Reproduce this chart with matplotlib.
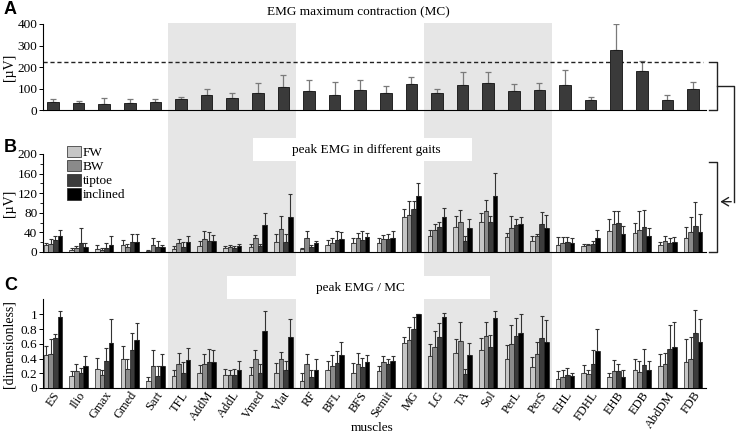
import matplotlib
matplotlib.use("Agg")
import matplotlib.pyplot as plt
import numpy as np
from matplotlib.patches import Rectangle, FancyArrowPatch
from matplotlib.lines import Line2D

plt.rcParams['font.family'] = ['Liberation Serif', 'DejaVu Serif']

muscles = ["ES", "Ilio", "Gmax", "Gmed", "Sart", "TFL", "AddM", "AddL", "Vmed", "Vlat",
           "RF", "BFL", "BFS", "Semit", "MG", "LG", "TA", "Sol", "PerL", "PerS",
           "EHL", "FDHL", "EHB", "EDB", "AbdDM", "FDB"]
gaits = ["FW", "BW", "tiptoe", "inclined"]
shaded_groups = [(5, 9), (15, 19)]
mc_reference = 222

# Panel A: maximum contraction (mean, mean+SD)
mc_mean = [36, 33, 30, 33, 36, 50, 68, 54, 78, 107, 89, 72, 93,
           78, 123, 79, 117, 126, 89, 92, 117, 48, 280, 182, 48, 96]
mc_top = [53, 44, 56, 50, 50, 62, 96, 81, 125, 162, 139, 129, 139,
          110, 153, 96, 176, 176, 120, 126, 187, 59, 401, 230, 70, 129]

# Panel B: peak EMG (µV) per gait (mean, mean+SD)
pk_FW = [15, 5, 7, 14, 3, 7, 13, 8, 11, 20, 6, 15, 18, 18, 71, 32, 52, 61, 31, 23, 15, 12, 43, 39, 14, 28]
pk_BW = [16, 9, 5, 11, 14, 19, 27, 10, 28, 47, 28, 19, 28, 26, 76, 44, 62, 84, 48, 32, 19, 14, 58, 45, 22, 40]
pk_TT = [24, 18, 9, 20, 10, 11, 22, 9, 13, 20, 10, 24, 25, 26, 87, 52, 23, 62, 56, 57, 20, 16, 60, 52, 18, 54]
pk_IN = [32, 11, 15, 20, 10, 20, 22, 12, 56, 72, 18, 27, 30, 28, 115, 72, 48, 115, 58, 49, 19, 28, 37, 33, 20, 40]
pk_FW_top = [18, 8, 14, 25, 4, 13, 22, 12, 16, 37, 8, 24, 29, 28, 87, 44, 73, 79, 39, 32, 31, 16, 68, 60, 20, 52]
pk_BW_top = [27, 12, 8, 17, 29, 27, 42, 14, 34, 73, 42, 28, 38, 35, 105, 58, 85, 106, 73, 37, 31, 16, 83, 83, 33, 71]
pk_TT_top = [32, 48, 18, 36, 23, 21, 40, 12, 16, 37, 14, 42, 42, 37, 105, 62, 32, 74, 67, 81, 31, 23, 83, 85, 28, 102]
pk_IN_top = [44, 18, 33, 36, 15, 32, 35, 17, 79, 118, 22, 40, 39, 42, 140, 89, 68, 161, 71, 75, 28, 44, 54, 49, 31, 77]

# Panel C: peak EMG / MC (dimensionless)
nr_FW = [0.45, 0.16, 0.26, 0.40, 0.09, 0.16, 0.20, 0.17, 0.17, 0.20, 0.10, 0.24, 0.21,
         0.23, 0.61, 0.43, 0.48, 0.52, 0.40, 0.28, 0.12, 0.20, 0.15, 0.24, 0.30, 0.35]
nr_BW = [0.46, 0.23, 0.17, 0.26, 0.30, 0.33, 0.32, 0.18, 0.39, 0.39, 0.32, 0.30, 0.32,
         0.35, 0.65, 0.55, 0.64, 0.71, 0.59, 0.46, 0.15, 0.19, 0.23, 0.22, 0.33, 0.40]
nr_TT = [0.68, 0.20, 0.36, 0.52, 0.16, 0.20, 0.35, 0.17, 0.21, 0.24, 0.15, 0.34, 0.28,
         0.33, 0.80, 0.69, 0.19, 0.56, 0.70, 0.68, 0.17, 0.33, 0.23, 0.31, 0.53, 0.74]
nr_IN = [0.96, 0.30, 0.61, 0.65, 0.30, 0.38, 0.35, 0.25, 0.77, 0.69, 0.25, 0.45, 0.35,
         0.36, 1.01, 0.96, 0.45, 0.95, 0.75, 0.63, 0.16, 0.50, 0.15, 0.25, 0.55, 0.63]
nr_FW_top = [0.57, 0.23, 0.41, 0.57, 0.15, 0.24, 0.31, 0.26, 0.29, 0.34, 0.20, 0.36, 0.34,
             0.30, 0.69, 0.59, 0.66, 0.68, 0.58, 0.42, 0.23, 0.31, 0.21, 0.39, 0.46, 0.66]
nr_BW_top = [0.66, 0.33, 0.24, 0.40, 0.51, 0.48, 0.46, 0.25, 0.52, 0.49, 0.46, 0.45, 0.47,
             0.44, 0.83, 0.77, 0.90, 0.90, 0.86, 0.63, 0.24, 0.25, 0.38, 0.36, 0.47, 0.69]
nr_TT_top = [0.73, 0.27, 0.54, 0.75, 0.30, 0.35, 0.53, 0.26, 0.32, 0.37, 0.25, 0.50, 0.41,
             0.40, 0.96, 0.88, 0.26, 0.72, 0.95, 0.98, 0.27, 0.52, 0.33, 0.53, 0.86, 1.06]
nr_IN_top = [1.05, 0.43, 0.94, 0.88, 0.46, 0.54, 0.52, 0.36, 1.04, 0.93, 0.39, 0.63, 0.45,
             0.44, 1.01, 1.02, 0.61, 1.04, 1.00, 0.92, 0.20, 0.80, 0.24, 0.37, 0.89, 0.94]

gait_colors = ["#c6c6c6", "#8a8a8a", "#3c3c3c", "#000000"]
W, H = 737, 437
fig = plt.figure(figsize=(W / 100, H / 100), dpi=100)

def fx(px):
    return px / W

def fy(py):
    return 1 - py / H

x = np.arange(len(muscles))
xlim = (-0.39, 25.51)
left, right = fx(43), fx(706)

# background axes for shaded regions
bg = fig.add_axes([left, fy(388), right - left, fy(23) - fy(388)], zorder=0)
bg.set_xlim(*xlim)
bg.axis('off')
for a, b in shaded_groups:
    bg.axvspan(a - 0.5, b + 0.5, color="#e6e6e6", lw=0)

def make_axes(top_px, bot_px):
    ax = fig.add_axes([left, fy(bot_px), right - left, fy(top_px) - fy(bot_px)], zorder=2)
    ax.patch.set_alpha(0)
    ax.set_xlim(*xlim)
    for s in ["top", "right"]:
        ax.spines[s].set_visible(False)
    ax.spines["left"].set_linewidth(0.8)
    ax.spines["bottom"].set_linewidth(0.8)
    ax.tick_params(axis="y", direction="out", length=3, width=0.7, labelsize=9.5, pad=1)
    ax.tick_params(axis="x", length=0)
    return ax

# white title boxes (drawn over shading, under axes contents)
for (x0, x1, y0, y1) in [(253, 472, 138, 161), (227, 490, 276, 299)]:
    fig.patches.append(Rectangle((fx(x0), fy(y1)), fx(x1) - fx(x0), fy(y0) - fy(y1),
                                 transform=fig.transFigure, facecolor="white",
                                 edgecolor="none", zorder=1))

# ---- Panel A ----
axA = make_axes(24, 110)
axA.set_ylim(0, 400)
axA.set_yticks([0, 100, 200, 300, 400])
axA.set_xticks([])
mcm = np.array(mc_mean)
axA.bar(x, mcm, width=0.45, color="#3a3a3a", edgecolor="#111111", lw=0.6, zorder=3)
axA.errorbar(x, mcm, yerr=[np.zeros_like(mcm), np.array(mc_top) - mcm], fmt="none",
             ecolor="#7a7a7a", elinewidth=0.9, capsize=2, capthick=0.9, zorder=2)
axA.axhline(mc_reference, color="#222222", ls=(0, (3, 2)), lw=1.0, xmax=0.995)
axA.set_ylabel("[µV]", fontsize=10, labelpad=2)

# ---- Panel B and C ----
def grouped(ax, series, tops, ecolor):
    bw = 0.18
    for i, (vals, top, col) in enumerate(zip(series, tops, gait_colors)):
        v = np.array(vals, dtype=float)
        xs = x + (i - 1.5) * bw
        ax.bar(xs, v, width=bw, color=col, edgecolor="#222222", lw=0.5, zorder=3,
               label=gaits[i])
        ax.errorbar(xs, v, yerr=[np.zeros_like(v), np.array(top) - v], fmt="none",
                    ecolor=ecolor, elinewidth=0.8, capsize=1.6, capthick=0.8, zorder=2)

axB = make_axes(154, 252)
axB.set_ylim(0, 200)
axB.set_yticks([0, 40, 80, 120, 160, 200])
axB.set_yticks(np.arange(20, 200, 40), minor=True)
axB.tick_params(axis="y", which="minor", direction="out", length=2, width=0.6)
axB.set_xticks([])
grouped(axB, [pk_FW, pk_BW, pk_TT, pk_IN], [pk_FW_top, pk_BW_top, pk_TT_top, pk_IN_top], "#333333")
axB.set_ylabel("[µV]", fontsize=10, labelpad=2)
leg = axB.legend(loc="upper left", bbox_to_anchor=(fx(60), fy(139)), bbox_transform=fig.transFigure,
                 frameon=False, fontsize=9.5, handlelength=1.1, handleheight=1.0,
                 handletextpad=0.1, labelspacing=0.05, borderpad=0)

axC = make_axes(299.5, 388)
axC.set_ylim(0, 1.2)
axC.set_yticks([0, 0.2, 0.4, 0.6, 0.8, 1.0])
axC.set_yticklabels(["0", "0.2", "0.4", "0.6", "0.8", "1"])
grouped(axC, [nr_FW, nr_BW, nr_TT, nr_IN], [nr_FW_top, nr_BW_top, nr_TT_top, nr_IN_top], "#333333")
axC.set_xticks(x)
axC.set_xticklabels(muscles, rotation=55, ha="right", rotation_mode="anchor", fontsize=9)
axC.tick_params(axis="x", pad=1)
axC.set_ylabel("[dimensionless]", fontsize=10, labelpad=2)

for ax in (axA, axB, axC):
    ax.yaxis.set_label_coords(-(43 - 16) / (706 - 43), 0.5)

# titles
fig.text(fx(358), fy(12), "EMG maximum contraction (MC)", ha="center", va="center", fontsize=9.5, zorder=5)
fig.text(fx(366), fy(150), "peak EMG in different gaits", ha="center", va="center", fontsize=9.5, zorder=5)
fig.text(fx(360), fy(288), "peak EMG / MC", ha="center", va="center", fontsize=9.5, zorder=5)
fig.text(fx(372), fy(428), "muscles", ha="center", va="center", fontsize=9.5)

# panel letters
for lab, py in [("A", 10), ("B", 147), ("C", 285)]:
    fig.text(fx(4), fy(py), lab, ha="left", va="center", fontsize=13, fontweight="bold",
             family="Liberation Sans")

# bracket + arrow linking MC reference to panel B
y_ref = axA.transData.transform((0, mc_reference))[1] / fig.bbox.height
y_a0 = fy(110)
y_b1, y_b0 = fy(161.5), fy(251.7)
xv, xt, xr = fx(717), fx(709), fx(734)
lk = dict(color="#222222", lw=1.0, transform=fig.transFigure)
fig.lines += [
    Line2D([xt, xv, xv, xt], [y_ref, y_ref, y_a0, y_a0], **lk),
    Line2D([xv, xr, xr], [(y_ref + y_a0) / 2, (y_ref + y_a0) / 2, fy(201.7)], **lk),
    Line2D([xt, xv, xv, xt], [y_b1, y_b1, y_b0, y_b0], **lk),
]
fig.patches.append(FancyArrowPatch(
    (xr, fy(201.7)), (fx(717.5), fy(201.7)), transform=fig.transFigure,
    arrowstyle="->,head_length=5,head_width=3", color="#222222", lw=1.0, mutation_scale=1))

fig.savefig("out.png", dpi=100)
